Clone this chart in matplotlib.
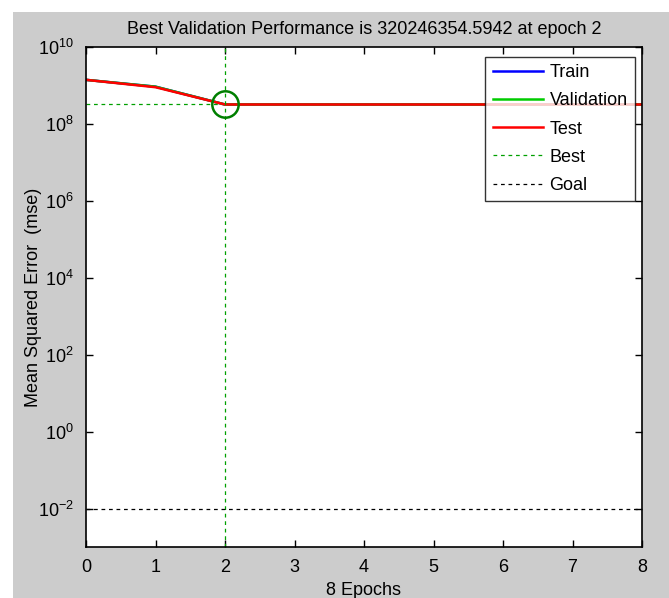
import matplotlib.pyplot as plt
from matplotlib.patches import Rectangle
from matplotlib.ticker import FixedLocator, FixedFormatter

plt.rcParams['font.family'] = ['Liberation Sans', 'DejaVu Sans']
plt.rcParams['mathtext.fontset'] = 'custom'
plt.rcParams['mathtext.rm'] = 'Liberation Sans'
plt.rcParams['mathtext.it'] = 'Liberation Sans'

# data
epochs = [0, 1, 2, 3, 4, 5, 6, 7, 8]
train_mse = [1.4e9, 9.3e8, 3.2e8, 3.2e8, 3.2e8, 3.2e8, 3.2e8, 3.2e8, 3.2e8]
val_mse = [1.4e9, 9.3e8, 3.20246354e8, 3.2e8, 3.2e8, 3.2e8, 3.2e8, 3.2e8, 3.2e8]
test_mse = [1.4e9, 9.0e8, 3.2e8, 3.2e8, 3.2e8, 3.2e8, 3.2e8, 3.2e8, 3.2e8]
best_epoch = 2
best_perf = 320246354.5942
goal = 1e-2
ytick_vals = [1e-2, 1e0, 1e2, 1e4, 1e6, 1e8, 1e10]
ytick_labels = ['$10^{-2}$', '$10^{0}$', '$10^{2}$', '$10^{4}$', '$10^{6}$', '$10^{8}$', '$10^{10}$']

fig = plt.figure(figsize=(6.69, 5.98), dpi=100, facecolor='white')
# gray MATLAB-style figure panel with a thin white border top/left
fig.patches.append(Rectangle((13 / 669, 0), 1 - 13 / 669, 1 - 12 / 598,
                             transform=fig.transFigure, facecolor='#cccccc',
                             edgecolor='none', zorder=-1))

ax = fig.add_axes([86 / 669, 1 - 547 / 598, (642 - 86) / 669, (547 - 47) / 598])
ax.set_facecolor('white')

ax.semilogy(epochs, train_mse, color='#0000ff', lw=1.8, label='Train')
ax.semilogy(epochs, val_mse, color='#00cc00', lw=1.8, label='Validation')
ax.semilogy(epochs, test_mse, color='#ff0000', lw=1.8, label='Test')
ax.axvline(best_epoch, color='#00a000', ls=(0, (3, 3)), lw=0.9, label='Best')
ax.plot([0, 8], [best_perf, best_perf], color='#00a000', ls=(0, (3, 3)), lw=0.9, zorder=1)
ax.axhline(goal, color='black', ls=(0, (3, 3)), lw=0.9, label='Goal')
ax.semilogy([best_epoch], [best_perf], 'o', mfc='none', mec='#007f00', ms=19, mew=1.8)

ax.set_xlim(0, 8)
ax.set_ylim(1e-3, 1e10)
ax.set_xticks(epochs)
ax.yaxis.set_major_locator(FixedLocator(ytick_vals))
ax.yaxis.set_major_formatter(FixedFormatter(ytick_labels))
ax.yaxis.set_minor_locator(FixedLocator([]))
ax.tick_params(direction='in', top=True, right=True, length=5, width=1,
               labelsize=13)
ax.tick_params(axis='x', pad=9)
ax.tick_params(axis='y', pad=9)
for s in ax.spines.values():
    s.set_linewidth(1.2)

ax.set_title('Best Validation Performance is 320246354.5942 at epoch 2',
             fontsize=13, pad=9)
ax.set_xlabel('8 Epochs', fontsize=13, labelpad=4)
ax.set_ylabel('Mean Squared Error  (mse)', fontsize=13, labelpad=2)
ax.yaxis.set_label_coords(-0.08, 0.5)

leg = ax.legend(loc='upper right', bbox_to_anchor=(0.987, 0.98), borderaxespad=0,
                fontsize=13, frameon=True, fancybox=False, edgecolor='black',
                handlelength=2.8, borderpad=0.4, labelspacing=0.62, handletextpad=0.35)
leg.get_frame().set_linewidth(1.0)

fig.savefig('out.png', dpi=100, facecolor=fig.get_facecolor())
